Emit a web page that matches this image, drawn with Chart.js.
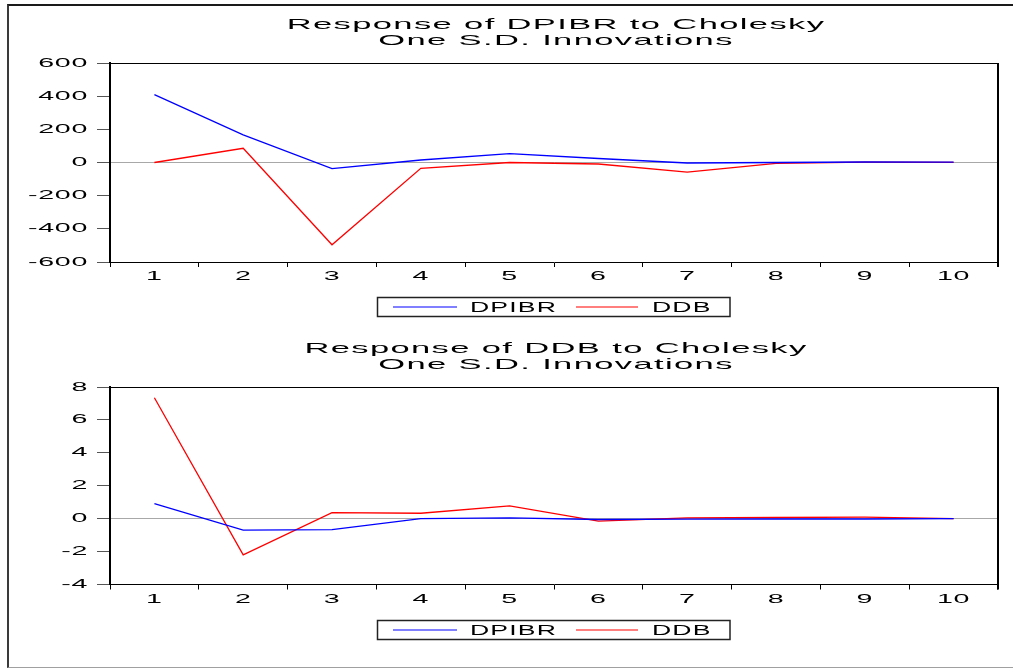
<!DOCTYPE html>
<html>
<head>
<meta charset="utf-8">
<title>Impulse responses</title>
<script src="https://cdn.jsdelivr.net/npm/chart.js@4.4.1/dist/chart.umd.min.js"></script>
<style>
    html, body { margin: 0; padding: 0; background: #fff; overflow: hidden; }
    body { width: 1013px; height: 668px; position: relative; }
    #frame {
        position: absolute; left: 7px; top: 4px; width: 1020px; height: 661px;
        border-left: 2px solid #3a3a3a; border-top: 2px solid #1a1a1a; border-bottom: 1px solid #a0a0a0;
    }
    canvas { position: absolute; left: 0; }
    #top-chart { top: 0; }
    #bottom-chart { top: 324px; }
</style>
</head>
<body>
<div id="frame"></div>
<canvas id="top-chart" width="1013" height="330"></canvas>
<canvas id="bottom-chart" width="1013" height="344"></canvas>
<script>
// Periods
const periods = ['1', '2', '3', '4', '5', '6', '7', '8', '9', '10'];

// Response of DPIBR
const dpibrToDpibr = [409, 167, -37, 15, 53, 24, -3, 0, 3, 2];
const dpibrToDdb = [0, 86, -496, -35, 0, -9, -58, -5, 2, 1];

// Response of DDB
const ddbToDpibr = [0.92, -0.70, -0.67, 0.0, 0.05, -0.05, -0.03, -0.02, -0.02, 0.0];
const ddbToDdb = [7.35, -2.20, 0.37, 0.33, 0.78, -0.15, 0.05, 0.07, 0.09, 0.0];

const FONT = 'Liberation Sans, Arial, sans-serif';

// EViews-style wide text: stretch glyphs horizontally + a little letter spacing
function widenText(ctx, sx, gap) {
    const fill = ctx.fillText.bind(ctx);
    const measure = ctx.measureText.bind(ctx);
    ctx.rawFillText = fill;
    ctx.fillText = function(text, x, y) {
        ctx.save();
        ctx.translate(x, y);
        ctx.scale(sx, 1);
        ctx.letterSpacing = gap + 'px';
        fill(text, 0, 0);
        ctx.restore();
    };
    ctx.measureText = function(text) {
        ctx.save();
        ctx.letterSpacing = gap + 'px';
        const m = measure(text);
        ctx.restore();
        return { width: m.width * sx, actualBoundingBoxAscent: m.actualBoundingBoxAscent, actualBoundingBoxDescent: m.actualBoundingBoxDescent };
    };
}

function wideText(ctx, text, x, y, size, sx, gap, align) {
    ctx.save();
    ctx.font = size + 'px ' + FONT;
    ctx.fillStyle = '#000';
    ctx.textAlign = align;
    ctx.textBaseline = 'alphabetic';
    ctx.translate(x, y);
    ctx.scale(sx, 1);
    ctx.letterSpacing = gap + 'px';
    ctx.rawFillText(text, 0, 0);
    ctx.restore();
}

// Frame, titles and boxed legend
const evFrame = {
    id: 'evFrame',
    afterDraw(chart, args, opts) {
        const ctx = chart.ctx;
        const a = chart.chartArea;
        ctx.save();
        ctx.strokeStyle = '#000';
        ctx.lineWidth = 1;
        ctx.beginPath();
        ctx.moveTo(a.left, Math.round(a.top) + 0.5);
        ctx.lineTo(a.right, Math.round(a.top) + 0.5);
        ctx.stroke();
        ctx.lineWidth = 2;
        ctx.beginPath();
        ctx.moveTo(Math.round(a.right), a.top);
        ctx.lineTo(Math.round(a.right), a.bottom + 5);
        ctx.stroke();
        ctx.restore();

        // title
        const cx = (a.left + a.right) / 2 + 2;
        wideText(ctx, opts.title[0], cx, 28.5, 15, 2.3, 0.6, 'center');
        wideText(ctx, opts.title[1], cx, 44.5, 15, 2.3, 0.6, 'center');

        // legend box
        const ly = opts.legendTop;
        ctx.save();
        ctx.strokeStyle = '#222';
        ctx.lineWidth = 1.5;
        ctx.strokeRect(377.5, ly, 352.5, 19);
        const items = [[393, 457, 470], [576, 638, 652]];
        chart.data.datasets.forEach((ds, i) => {
            const it = items[i];
            ctx.strokeStyle = ds.borderColor;
            ctx.globalAlpha = 0.5;
            ctx.lineWidth = 2;
            ctx.beginPath();
            ctx.moveTo(it[0], ly + 9.5);
            ctx.lineTo(it[1], ly + 9.5);
            ctx.stroke();
            ctx.globalAlpha = 1;
            wideText(ctx, ds.label, it[2], ly + 14, 14, 1.9, 0.6, 'left');
        });
        ctx.restore();
    }
};

function makeChart(id, title, blue, red, yMin, yMax, step, bottomPad, legendTop) {
    const ctx = document.getElementById(id).getContext('2d');
    widenText(ctx, 2.2, 0.3);
    return new Chart(ctx, {
        type: 'line',
        data: {
            labels: periods,
            datasets: [{
                label: 'DPIBR',
                data: blue,
                borderColor: '#0000ff',
                borderWidth: 1.3,
                pointRadius: 0,
                tension: 0
            }, {
                label: 'DDB',
                data: red,
                borderColor: '#ff0000',
                borderWidth: 1.3,
                pointRadius: 0,
                tension: 0
            }]
        },
        options: {
            responsive: false,
            animation: false,
            devicePixelRatio: 1,
            layout: { padding: { left: 8, right: 15, top: 63, bottom: bottomPad } },
            plugins: {
                legend: { display: false },
                title: { display: false },
                tooltip: { enabled: false },
                evFrame: { title: title, legendTop: legendTop }
            },
            scales: {
                x: {
                    offset: true,
                    afterFit: s => { s.height = 30; },
                    grid: { offset: true, drawOnChartArea: false, tickLength: 5, tickColor: '#000' },
                    border: { color: '#000', width: 1 },
                    ticks: { color: '#000', padding: 2, font: { family: FONT, size: 13 }, maxRotation: 0 }
                },
                y: {
                    min: yMin,
                    max: yMax,
                    afterFit: s => { s.width = 102; },
                    grid: {
                        color: c => (c.tick && c.tick.value === 0) ? '#a8a8a8' : 'rgba(0,0,0,0)',
                        tickColor: '#555',
                        tickLength: 13
                    },
                    border: { color: '#000', width: 2 },
                    ticks: { stepSize: step, color: '#000', padding: 9, font: { family: FONT, size: 13 } }
                }
            }
        },
        plugins: [evFrame]
    });
}

makeChart('top-chart', ['Response of DPIBR to Cholesky', 'One S.D. Innovations'],
    dpibrToDpibr, dpibrToDdb, -600, 600, 200, 38, 297.5);
makeChart('bottom-chart', ['Response of DDB to Cholesky', 'One S.D. Innovations'],
    ddbToDpibr, ddbToDdb, -4, 8, 2, 53.5, 296.5);
</script>
</body>
</html>
